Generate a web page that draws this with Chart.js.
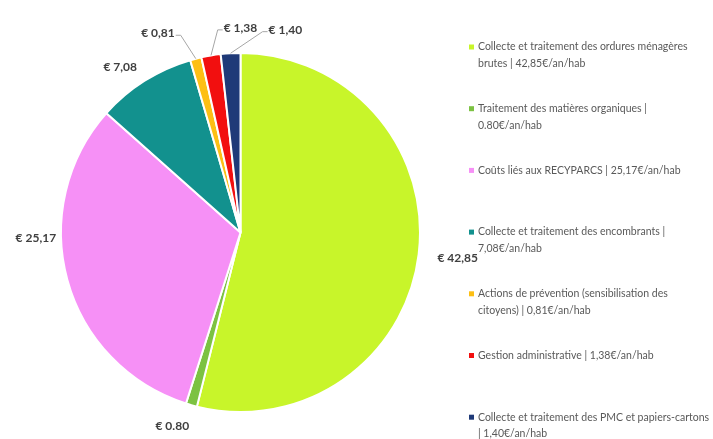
<!DOCTYPE html>
<html>
<head>
<meta charset="utf-8">
<script src="https://cdn.jsdelivr.net/npm/chart.js@4/dist/chart.umd.min.js"></script>
<style>
  html, body { margin: 0; padding: 0; background: #fff; }
  #wrap { width: 713px; height: 439px; }
</style>
</head>
<body>
<div id="wrap"><canvas id="pie"></canvas></div>
<script>
// data
const categories = [
  "Collecte et traitement des ordures ménagères brutes",
  "Traitement des matières organiques",
  "Coûts liés aux RECYPARCS",
  "Collecte et traitement des encombrants",
  "Actions de prévention (sensibilisation des citoyens)",
  "Gestion administrative",
  "Collecte et traitement des PMC et papiers-cartons"
];
const values = [42.85, 0.80, 25.17, 7.08, 0.81, 1.38, 1.40];
const sliceLabels = ["€ 42,85", "€ 0.80", "€ 25,17", "€ 7,08", "€ 0,81", "€ 1,38", "€ 1,40"];
const legendLines = [
  ["Collecte et traitement des ordures ménagères", "brutes | 42,85€/an/hab"],
  ["Traitement des matières organiques |", "0.80€/an/hab"],
  ["Coûts liés aux RECYPARCS | 25,17€/an/hab"],
  ["Collecte et traitement des encombrants |", "7,08€/an/hab"],
  ["Actions de prévention (sensibilisation des", "citoyens) | 0,81€/an/hab"],
  ["Gestion administrative | 1,38€/an/hab"],
  ["Collecte et traitement des PMC et papiers-cartons", "| 1,40€/an/hab"]
];
const colors = ["#c8f52a", "#7cc242", "#f690f6", "#12918e", "#fdbf14", "#f20f0f", "#1f3a78"];

// where each value label sits, relative to the pie centre, in radius units
// leader: whether a line joins the label to its slice
const labelPlace = [
  { dx: 1.21, dy: 0.14, leader: false },
  { dx: -0.38, dy: 1.08, leader: false },
  { dx: -1.14, dy: 0.03, leader: false },
  { dx: -0.67, dy: -0.92, leader: false },
  { dx: -0.46, dy: -1.11, leader: "right" },
  { dx: 0.0, dy: -1.14, leader: "left" },
  { dx: 0.25, dy: -1.13, leader: "left" }
];

const valueLabels = {
  id: "valueLabels",
  afterDatasetsDraw(chart) {
    const ctx = chart.ctx;
    const arcs = chart.getDatasetMeta(0).data;
    ctx.save();
    ctx.font = "bold 12px Lato";
    ctx.fillStyle = "#404040";
    ctx.textBaseline = "middle";
    ctx.textAlign = "center";
    arcs.forEach((arc, i) => {
      const p = arc.getProps(["x", "y", "startAngle", "endAngle", "outerRadius"], true);
      const r = p.outerRadius;
      const lx = p.x + labelPlace[i].dx * r;
      const ly = p.y + labelPlace[i].dy * r;
      const w = ctx.measureText(sliceLabels[i]).width;
      if (labelPlace[i].leader) {
        const mid = (p.startAngle + p.endAngle) / 2;
        const ax = p.x + Math.cos(mid) * r;
        const ay = p.y + Math.sin(mid) * r;
        const sx = labelPlace[i].leader === "right" ? lx + w / 2 + 1 : lx - w / 2 - 1;
        const ex = labelPlace[i].leader === "right" ? sx + 5 : sx - 5;
        ctx.strokeStyle = "#a6a6a6";
        ctx.lineWidth = 1;
        ctx.beginPath();
        ctx.moveTo(sx, ly + 2);
        ctx.lineTo(ex, ly + 2);
        ctx.lineTo(ax, ay);
        ctx.stroke();
      }
      ctx.fillText(sliceLabels[i], lx, ly);
    });
    ctx.restore();
  }
};

const sideLegend = {
  id: "sideLegend",
  afterDraw(chart) {
    const ctx = chart.ctx;
    ctx.save();
    ctx.font = "10.5px Lato";
    ctx.textBaseline = "middle";
    ctx.textAlign = "left";
    const x0 = 469, top = 47, step = 61.7, lineH = 16.5;
    legendLines.forEach((lines, i) => {
      const y = top + i * step;
      ctx.fillStyle = colors[i];
      ctx.fillRect(x0, y - 2.5, 5, 5);
      ctx.fillStyle = "#595959";
      lines.forEach((t, k) => ctx.fillText(t, x0 + 9, y + k * lineH));
    });
    ctx.restore();
  }
};

new Chart(document.getElementById("pie"), {
  type: "pie",
  data: {
    labels: categories,
    datasets: [{
      data: values,
      backgroundColor: colors,
      borderColor: "#ffffff",
      borderWidth: 2,
      hoverOffset: 0
    }]
  },
  options: {
    responsive: true,
    maintainAspectRatio: false,
    animation: false,
    layout: { padding: { top: 51, bottom: 25, left: 60, right: 292 } },
    plugins: {
      legend: { display: false },
      tooltip: { enabled: false }
    }
  },
  plugins: [valueLabels, sideLegend]
});
</script>
</body>
</html>
